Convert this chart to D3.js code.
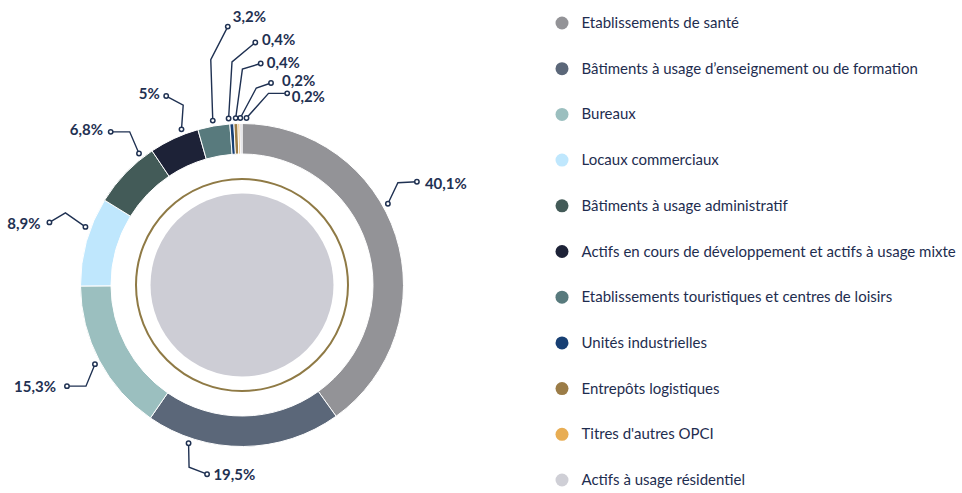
<!DOCTYPE html>
<html>
<head>
<meta charset="utf-8">
<script src="https://cdn.jsdelivr.net/npm/d3@7"></script>
<style>
  body { margin: 0; background: #fff; }
  svg { font-family: Lato, "Open Sans", sans-serif; }
</style>
</head>
<body>
<div class="canvas"></div>
<script>
// categories, in drawing order (clockwise from 12 o'clock)
const categories = [
  'Etablissements de santé',
  'Bâtiments à usage d’enseignement ou de formation',
  'Bureaux',
  'Locaux commerciaux',
  'Bâtiments à usage administratif',
  'Actifs en cours de développement et actifs à usage mixte',
  'Etablissements touristiques et centres de loisirs',
  'Unités industrielles',
  'Entrepôts logistiques',
  "Titres d'autres OPCI",
  'Actifs à usage résidentiel'
];
const values = [40.1, 19.5, 15.3, 8.9, 6.8, 5, 3.2, 0.4, 0.4, 0.2, 0.2];
const valueLabels = ['40,1%', '19,5%', '15,3%', '8,9%', '6,8%', '5%', '3,2%', '0,4%', '0,4%', '0,2%', '0,2%'];

const colours = ['#939397', '#5b6779', '#9bbfbf', '#bfe7fd', '#435b58', '#1d2237',
                 '#587a7d', '#173f73', '#9b7c47', '#e8ad53', '#cfcfd6'];

// leader line layout: angle nudge (deg) for the start dot, elbow / end offsets from it,
// and text offset [dx, dy of text centre] from the end dot
const leaders = [
  {nudge: -11.3, elbow: [10, -21], end: [29, -22], text: [8, 1.8]},
  {nudge: 19.2, elbow: [0.5, 24], end: [18.5, 31], text: [6.3, 0]},
  {nudge: -0.4, elbow: [-9, 22], end: [-28, 22], text: [-11, 0]},
  {nudge: 4.7, elbow: [-20, -14], end: [-36, -4.5], text: [-9, 0.7]},
  {nudge: 8, elbow: [-9.3, -21.7], end: [-28.3, -21.7], text: [-7.7, -2.3]},
  {nudge: 3.6, elbow: [1.7, -24.3], end: [-15.3, -33.3], text: [-6.4, -2]},
  {nudge: 0, elbow: [-2, -61], end: [15, -94], text: [5, -10]},
  {nudge: -1, elbow: [3.4, -56.6], end: [26.7, -76], text: [6.7, -3]},
  {nudge: 0, elbow: [6.7, -49], end: [25, -54.6], text: [6, -1]},
  {nudge: 0.5, elbow: [16, -30], end: [30.7, -35], text: [11, -2]},
  {nudge: 1.9, elbow: [22, -24.7], end: [40.7, -24.7], text: [4.5, 3.7]}
];

const dims = {width: 962, height: 493, outer: 161.5, inner: 131};
const cent = {x: 242, y: 285};

const svg = d3.select('.canvas')
  .append('svg')
    .attr('width', dims.width)
    .attr('height', dims.height);

const graph = svg.append('g')
  .attr('transform', `translate(${cent.x},${cent.y})`);

const data = categories.map((c, i) => ({name: c, value: values[i], label: valueLabels[i], leader: leaders[i]}));

const colour = d3.scaleOrdinal()
  .domain(categories)
  .range(colours);

const pie = d3.pie()
  .sort(null)
  .value(d => d.value);

const arcPath = d3.arc()
  .outerRadius(dims.outer)
  .innerRadius(dims.inner);

// decorative centre
graph.append('circle')
  .attr('r', 91.5)
  .attr('fill', '#cdcdd5');
graph.append('circle')
  .attr('r', 106)
  .attr('fill', 'none')
  .attr('stroke', '#8f7a45')
  .attr('stroke-width', 2);

const arcs = pie(data);

graph.selectAll('path.arc')
  .data(arcs)
  .enter()
  .append('path')
    .attr('class', 'arc')
    .attr('d', arcPath)
    .attr('fill', d => colour(d.data.name))
    .attr('stroke', '#fff')
    .attr('stroke-width', 1);

// leader lines + labels
const navy = '#1f3152';
const labels = graph.selectAll('g.lab')
  .data(arcs)
  .enter()
  .append('g')
    .attr('class', 'lab');

labels.each(function(d) {
  const g = d3.select(this);
  const l = d.data.leader;
  const a = (d.startAngle + d.endAngle) / 2 + l.nudge * Math.PI / 180;
  const r = 167;
  const s = [r * Math.sin(a), -r * Math.cos(a)];
  const e1 = [s[0] + l.elbow[0], s[1] + l.elbow[1]];
  const e2 = [s[0] + l.end[0], s[1] + l.end[1]];

  g.append('path')
    .attr('d', d3.line()([s, e1, e2]))
    .attr('fill', 'none')
    .attr('stroke', navy)
    .attr('stroke-width', 1.4);

  [s, e2].forEach(p => {
    g.append('circle')
      .attr('cx', p[0]).attr('cy', p[1])
      .attr('r', 2.2)
      .attr('fill', '#fff')
      .attr('stroke', navy)
      .attr('stroke-width', 1.5);
  });

  const right = l.text[0] >= 0;
  g.append('text')
    .attr('x', e2[0] + l.text[0])
    .attr('y', e2[1] + l.text[1] + 5.4)
    .attr('text-anchor', right ? 'start' : 'end')
    .attr('fill', navy)
    .attr('font-size', 15)
    .attr('font-weight', 700)
    .text(d.data.label);
});

// legend
const legend = svg.append('g')
  .attr('transform', 'translate(562,23)');

const rowY = d3.scalePoint()
  .domain(categories)
  .range([0, 457]);

const rows = legend.selectAll('g')
  .data(categories)
  .enter()
  .append('g')
    .attr('transform', d => `translate(0,${rowY(d)})`);

rows.append('circle')
  .attr('r', 6.5)
  .attr('fill', d => colour(d));

rows.append('text')
  .attr('x', 19.5)
  .attr('y', 5)
  .attr('fill', '#1e2d4f')
  .attr('font-size', 15)
  .text(d => d);
</script>
</body>
</html>
